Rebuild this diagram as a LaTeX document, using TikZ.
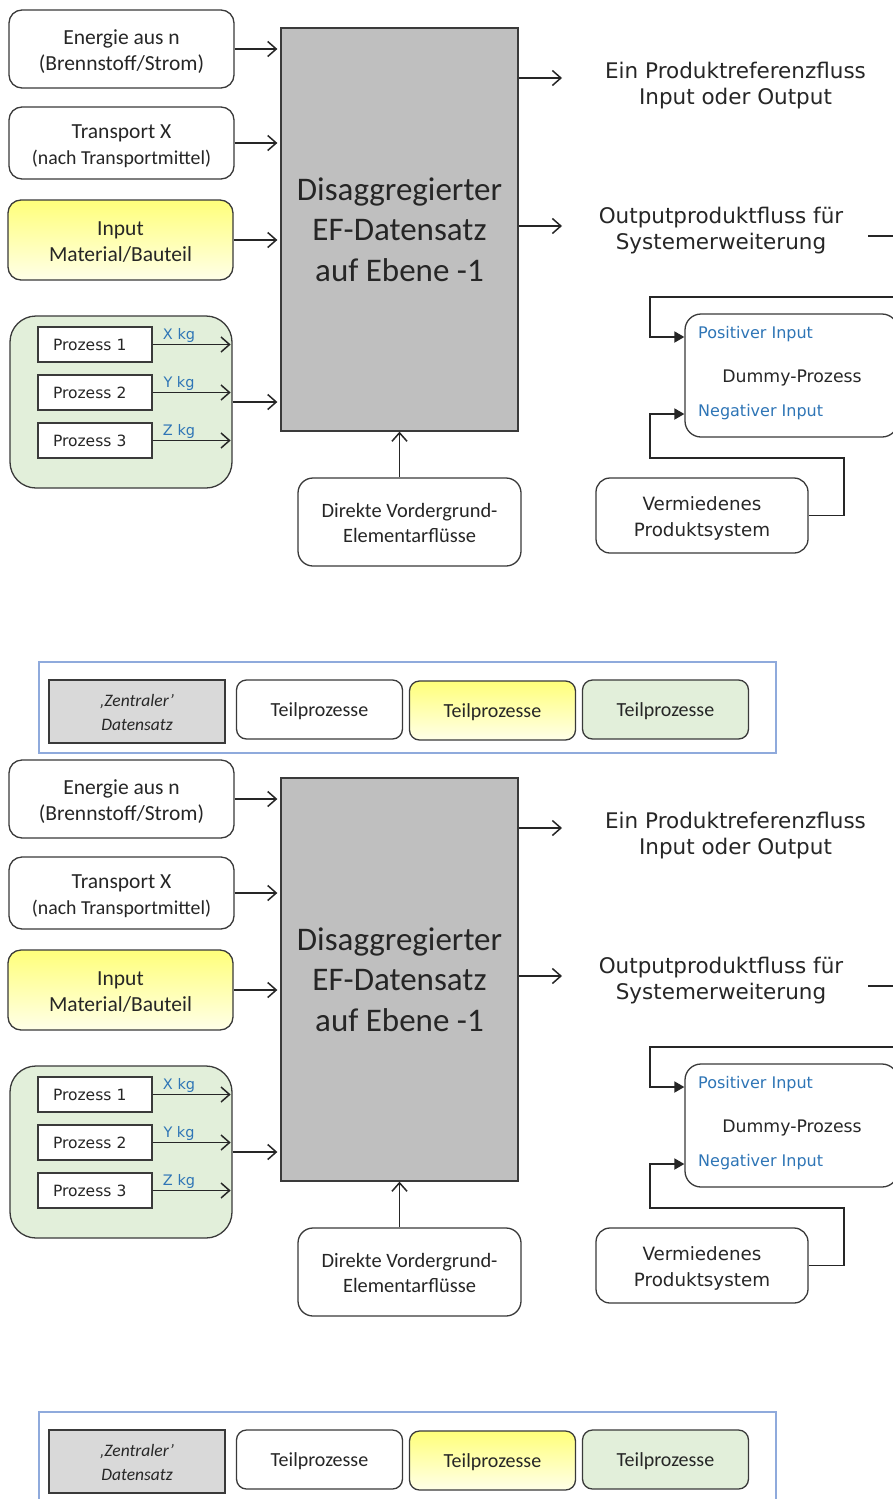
\documentclass[tikz,border=0pt]{standalone}
\usepackage{fontspec}
\setmainfont{Carlito}
\newfontfamily\verd{DejaVu Sans}
\usetikzlibrary{arrows.meta,calc}

\definecolor{boxline}{HTML}{3A3A3A}
\definecolor{inktext}{HTML}{262626}
\definecolor{coregray}{HTML}{BFBFBF}
\definecolor{leggray}{HTML}{D9D9D9}
\definecolor{grpgreen}{HTML}{E2EFDA}
\definecolor{ytop}{HTML}{FFFF7A}
\definecolor{ybot}{HTML}{FFFFE8}
\definecolor{flowblue}{HTML}{2E75B6}
\definecolor{legblue}{HTML}{8FAADC}

% extra head room on the first line of a text block
\newcommand\headroom[1]{\rule{0pt}{#1}}

\tikzset{
  box/.style={draw=boxline, line width=1.3pt, rounded corners=13pt, fill=white,
    align=center, inner sep=0pt, text=inktext},
  yellowbox/.style={box, top color=ytop, bottom color=ybot},
  greenbox/.style={box, fill=grpgreen},
  procbox/.style={draw=boxline, line width=1.3pt, fill=white, inner sep=0pt,
    minimum width=114pt, minimum height=35pt, text=inktext, text width=84pt,
    align=left, font=\verd\fontsize{15.5}{18}\selectfont},
  corebox/.style={draw=boxline, line width=1.3pt, fill=coregray, inner sep=0pt,
    align=center, text=inktext, font=\fontsize{33}{40.5}\selectfont},
  plaintext/.style={align=center, inner sep=0pt, text=inktext},
  bluetext/.style={inner sep=0pt, text=flowblue},
  kglabel/.style={bluetext, pos=0.33, above=1pt, font=\verd\fontsize{14.5}{16}\selectfont},
  openarrow/.style={draw=inktext, line width=1.5pt,
    -{Straight Barb[length=8.5pt,width=15pt]}},
  fillarrow/.style={draw=inktext, line width=1.8pt,
    -{Triangle[length=10pt,width=11pt]}},
  plainline/.style={draw=inktext, line width=1.5pt},
  legframe/.style={draw=legblue, line width=1.4pt, inner sep=0pt},
  legbox/.style={rounded corners=10pt, minimum width=166pt, minimum height=59pt,
    font=\fontsize{20}{22}\selectfont},
  pics/flowsheet/.style={code={
    % input boxes on the left
    \node[box, minimum width=225pt, minimum height=78pt,
      font=\fontsize{21.5}{26}\selectfont] (-energie) at (121.5,49)
      {\headroom{19pt}Energie aus n\\(Brennstoff/Strom)};
    \node[box, minimum width=225pt, minimum height=72pt,
      font=\fontsize{21.5}{26}\selectfont] (-transport) at (121.5,143)
      {\headroom{21pt}Transport X\\{\fontsize{19.8}{26}\selectfont(nach Transportmittel)}};
    \node[yellowbox, minimum width=225pt, minimum height=80pt,
      font=\fontsize{21.5}{26}\selectfont] (-input) at (120.5,240)
      {\headroom{17pt}Input\\Material/Bauteil};
    % group of sub-processes
    \node[greenbox, rounded corners=26pt, minimum width=222pt,
      minimum height=172pt] (-grp) at (121,402) {};
    \node[procbox] (-p1) at (95,344.5) {Prozess 1};
    \node[procbox] (-p2) at (95,392.5) {Prozess 2};
    \node[procbox] (-p3) at (95,440.5) {Prozess 3};
    \draw[openarrow, shorten >=2pt] (-p1.east) -- (-p1.east -| -grp.east)
      node[kglabel] {X kg};
    \draw[openarrow, shorten >=2pt] (-p2.east) -- (-p2.east -| -grp.east)
      node[kglabel] {Y kg};
    \draw[openarrow, shorten >=2pt] (-p3.east) -- (-p3.east -| -grp.east)
      node[kglabel] {Z kg};
    % central data set
    \node[corebox, minimum width=237pt, minimum height=403pt] (-core) at (399.5,229.5)
      {Disaggregierter\\EF-Datensatz\\auf Ebene -1};
    \draw[openarrow, shorten >=3pt] (-energie.east) -- (-energie.east -| -core.west);
    \draw[openarrow, shorten >=3pt] (-transport.east) -- (-transport.east -| -core.west);
    \draw[openarrow, shorten >=3pt] (-input.east) -- (-input.east -| -core.west);
    \draw[openarrow, shorten >=3pt] (-grp.east) -- (-grp.east -| -core.west);
    % foreground elementary flows
    \node[box, rounded corners=15pt, minimum width=223pt, minimum height=88pt,
      font=\fontsize{20.4}{25}\selectfont] (-direct) at (409.5,522)
      {\headroom{17pt}Direkte Vordergrund-\\Elementarflüsse};
    \draw[openarrow] (-direct.north -| -core.south) -- (-core.south);
    % outputs
    \coordinate (-out1) at (562,78);
    \coordinate (-out2) at (562,226);
    \draw[openarrow] (-core.east |- -out1) -- (-out1);
    \draw[openarrow] (-core.east |- -out2) -- (-out2);
    \node[plaintext, font=\verd\fontsize{21.5}{26}\selectfont] (-reftext) at (735.5,85.5)
      {Ein Produktreferenzfluss\\Input oder Output};
    \node[plaintext, font=\verd\fontsize{21.5}{26}\selectfont] (-systext) at (721,230.5)
      {Outputproduktfluss für\\Systemerweiterung};
    \coordinate (-sysA) at (868,236);
    \coordinate (-sysB) at (905,236);
    \draw[plainline] (-sysA) -- (-sysB);
    % dummy process with system expansion
    \node[box, rounded corners=16pt, minimum width=213pt, minimum height=123pt]
      (-dummy) at (791.5,375.5) {};
    \node[bluetext, anchor=west, font=\verd\fontsize{16}{18}\selectfont]
      (-postext) at (698,334) {Positiver Input};
    \node[plaintext, font=\verd\fontsize{17.3}{20}\selectfont]
      (-dummytext) at (792,377.5) {Dummy-Prozess};
    \node[bluetext, anchor=west, font=\verd\fontsize{16}{18}\selectfont]
      (-negtext) at (698,412) {Negativer Input};
    \node[box, rounded corners=14pt, minimum width=212pt, minimum height=75pt,
      font=\verd\fontsize{18.3}{26}\selectfont] (-avoid) at (702,515.5)
      {\headroom{19pt}Vermiedenes\\Produktsystem};
    \coordinate (-pin) at (905,297);
    \coordinate (-ptop) at (650,297);
    \coordinate (-pbot) at (650,337);
    \draw[fillarrow, line join=miter] (-pin) -- (-ptop) -- (-pbot) -- (-dummy.west |- -pbot);
    \coordinate (-n1) at (844,515.5);
    \coordinate (-n2) at (844,458);
    \coordinate (-n3) at (650,458);
    \coordinate (-n4) at (650,414);
    \draw[fillarrow, line join=miter] (-avoid.east) -- (-n1) -- (-n2) -- (-n3) -- (-n4)
      -- (-dummy.west |- -n4);
    % legend
    \node[legframe, minimum width=737pt, minimum height=91pt] (-legend) at (407.5,707.5) {};
    \node[draw=boxline, line width=1.3pt, fill=leggray, inner sep=0pt, align=center,
      minimum width=176pt, minimum height=63pt, text=inktext,
      font=\itshape\fontsize{17.5}{24}\selectfont] (-leg1) at (137,711.5)
      {\headroom{15pt}‚Zentraler’\\Datensatz};
    \node[box, legbox] (-leg2) at (319.5,709.5) {\headroom{18pt}Teilprozesse};
    \node[yellowbox, legbox] (-leg3) at (492.5,710.5) {\headroom{18pt}Teilprozesse};
    \node[greenbox, legbox] (-leg4) at (665.5,709.5) {\headroom{18pt}Teilprozesse};
  }}
}

\begin{document}
\begin{tikzpicture}[x=1pt, y=-1pt]
  \path[use as bounding box] (0,0) rectangle (893,1499);
  \clip (0,0) rectangle (893,1499);
  \fill[white] (0,0) rectangle (893,1499);
  \pic (A) at (0,0) {flowsheet};
  \pic (B) at (0,750) {flowsheet};
\end{tikzpicture}
\end{document}
